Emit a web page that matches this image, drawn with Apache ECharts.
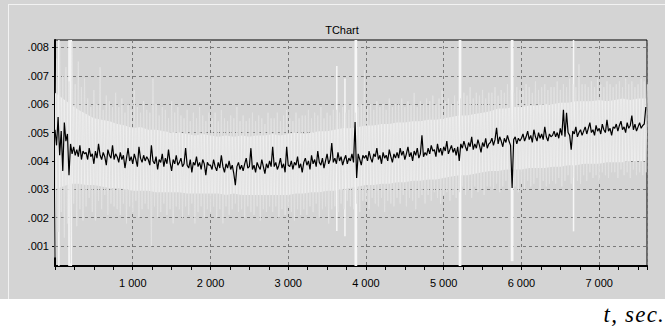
<!DOCTYPE html>
<html>
<head>
<meta charset="utf-8">
<script src="https://cdn.jsdelivr.net/npm/echarts@6/dist/echarts.min.js"></script>
<style>
html, body { margin: 0; padding: 0; background: #fff; }
#panel { position: absolute; left: 0; top: 0; width: 665px; height: 299px; background: #d4d4d4; }
#bevel { position: absolute; left: 8px; top: 4px; right: 0; bottom: 0; border-left: 1px solid #f2f2f2; border-top: 1px solid #f2f2f2; }
#chart { position: absolute; left: 0; top: 0; width: 665px; height: 331px; }
#unit { position: absolute; right: 0; top: 302px; font: italic 23px 'Liberation Serif', 'Times New Roman', serif; letter-spacing: 1.2px; color: #000; }
</style>
</head>
<body>
<div id="panel"><div id="bevel"></div></div>
<div id="chart"></div>
<div id="unit">t, sec.</div>
<script>
// values in thousandths (4.1 -> .0041), time in sec

// black series, one value every 20 s from t = 0
const blackStep = 20;
const black = [
  5.10, 4.55, 5.55, 4.20, 5.05, 3.65, 5.35, 4.70, 4.95, 3.50, 4.60, 4.25, 4.50, 4.20, 4.40, 4.15, 4.55, 4.05, 4.35, 4.25,
  4.30, 4.05, 4.45, 4.15, 4.25, 3.90, 4.35, 4.10, 4.60, 4.20, 4.05, 4.30, 4.15, 3.85, 4.40, 4.20, 4.10, 4.55, 4.05, 4.25,
  4.15, 3.95, 4.30, 4.05, 4.20, 3.75, 4.10, 4.45, 4.00, 4.15, 3.90, 4.25, 4.05, 3.80, 4.50, 4.10, 3.95, 4.20, 4.00, 4.15,
  4.05, 3.85, 4.55, 4.00, 3.90, 4.15, 3.70, 4.05, 3.95, 4.25, 3.80, 4.10, 3.90, 4.40, 3.95, 3.65, 4.05, 3.90, 4.20, 3.85,
  3.95, 4.10, 3.80, 3.90, 4.45, 3.85, 3.75, 4.05, 3.60, 3.95, 3.85, 4.15, 3.80, 3.95, 3.70, 4.05, 3.90, 3.50, 3.95, 3.85,
  3.85, 3.70, 4.05, 3.80, 3.65, 3.95, 3.75, 4.20, 3.80, 3.60, 3.90, 3.75, 4.00, 3.70, 3.85, 3.55, 3.15, 3.80, 3.95, 3.70,
  3.85, 3.65, 3.90, 4.10, 3.75, 3.80, 4.45, 3.70, 3.85, 3.60, 3.95, 3.80, 3.70, 4.05, 3.80, 3.55, 3.90, 3.75, 4.00, 3.80,
  4.50, 3.80, 3.95, 3.70, 3.85, 4.10, 3.75, 3.90, 3.60, 4.50, 3.85, 3.80, 4.00, 3.70, 3.95, 3.85, 4.15, 3.75, 3.90, 3.60,
  3.95, 4.10, 3.85, 4.00, 3.70, 4.20, 3.90, 4.05, 3.80, 4.35, 3.95, 3.85, 4.10, 3.75, 4.00, 4.25, 3.90, 4.05, 4.63, 3.95,
  4.10, 3.90, 4.30, 4.00, 4.15, 3.85, 4.05, 4.20, 3.90, 4.10, 4.00, 4.25, 3.95, 5.37, 3.40, 4.25, 4.05, 3.85, 4.20, 4.10,
  4.20, 4.00, 4.35, 4.10, 3.95, 4.25, 4.15, 4.45, 4.05, 4.20, 3.90, 4.30, 4.10, 4.20, 4.00, 4.40, 4.15, 3.95, 4.25, 4.10,
  4.30, 4.10, 4.45, 4.20, 4.35, 4.05, 4.25, 4.50, 4.15, 4.30, 4.00, 4.35, 4.20, 4.45, 4.10, 4.25, 4.90, 4.15, 4.30, 4.20,
  4.45, 4.25, 4.55, 4.35, 4.40, 4.15, 4.60, 4.30, 4.45, 4.20, 4.50, 4.35, 4.70, 4.25, 4.40, 4.55, 4.30, 4.45, 4.20, 4.50,
  4.00, 4.60, 4.45, 4.70, 4.50, 4.35, 4.65, 4.50, 4.85, 4.40, 4.60, 4.45, 4.75, 4.55, 4.30, 4.65, 4.50, 4.80, 4.45, 4.60,
  4.65, 4.80, 4.55, 4.75, 5.17, 4.60, 4.85, 4.70, 4.50, 4.80, 4.65, 4.90, 4.70, 4.55, 3.05, 4.75, 4.85, 4.60, 4.80, 4.70,
  4.80, 4.95, 4.70, 4.85, 5.05, 4.75, 4.90, 4.65, 5.10, 4.85, 4.70, 5.00, 4.80, 4.95, 4.75, 5.20, 4.85, 4.70, 4.95, 4.85,
  4.90, 5.05, 4.85, 5.00, 4.80, 5.15, 4.90, 5.80, 4.85, 5.70, 5.00, 4.90, 4.40, 5.05, 4.95, 5.20, 4.85, 5.00, 5.10, 4.90,
  5.05, 5.20, 4.95, 5.15, 5.35, 5.00, 5.10, 4.90, 5.25, 5.05, 5.15, 4.95, 5.30, 5.10, 5.00, 5.45, 5.05, 5.15, 4.90, 5.20,
  5.15, 5.30, 5.05, 5.25, 5.40, 5.10, 5.20, 5.00, 5.35, 5.15, 5.25, 5.60, 5.10, 5.30, 5.05, 5.20, 5.35, 5.15, 5.25, 5.30,
  5.90
];

// light series, outer swings (low / high) every 40 s
const fringeStep = 40;
const fringeHi = [
  7.6, 8.2, 7.0, 7.3, 6.8, 8.2, 6.7, 7.5, 6.6, 6.9,
  6.2, 5.9, 6.5, 6.0, 7.3, 5.8, 6.3, 6.1, 5.9, 6.4,
  5.9, 6.2, 5.7, 6.0, 5.8, 6.5, 5.9, 5.7, 6.1, 5.8,
  5.7, 6.9, 6.0, 5.6, 5.9, 5.8, 5.5, 6.1, 5.7, 5.9,
  5.6, 5.5, 5.8, 5.4, 5.7, 5.5, 5.9, 5.6, 5.4, 5.7,
  5.5, 5.7, 5.4, 5.8, 5.5, 5.4, 5.6, 5.5, 5.9, 5.4,
  5.6, 5.4, 5.5, 5.7, 5.4, 5.6, 5.5, 5.3, 5.7, 5.5,
  5.5, 5.7, 5.4, 5.6, 5.8, 5.5, 5.4, 5.7, 5.5, 5.6,
  5.6, 5.8, 5.5, 5.7, 5.6, 5.9, 5.5, 5.7, 5.6, 5.8,
  5.8, 5.7, 5.9, 5.7, 5.8, 6.0, 5.7, 5.9, 6.0, 7.2,
  5.9, 6.0, 5.8, 6.1, 5.9, 6.0, 5.8, 6.2, 5.9, 6.0,
  6.0, 6.2, 5.9, 6.1, 6.0, 6.4, 5.9, 6.1, 6.0, 6.2,
  6.1, 6.3, 6.0, 6.2, 6.5, 6.1, 6.2, 6.0, 6.3, 6.1,
  6.2, 6.4, 6.3, 6.6, 6.2, 6.4, 6.3, 6.5, 6.2, 6.4,
  6.4, 6.6, 6.3, 6.5, 6.4, 6.7, 6.5, 6.4, 6.6, 6.5,
  6.5, 6.7, 6.6, 6.4, 6.8, 6.5, 6.6, 6.7, 6.5, 6.6,
  6.6, 6.8, 6.5, 6.7, 6.6, 6.9, 6.7, 6.6, 7.4, 6.7,
  6.7, 6.6, 6.8, 6.6, 6.9, 6.7, 6.6, 6.8, 6.7, 6.6,
  6.7, 6.8, 6.6, 6.9, 6.7, 6.8, 6.6, 6.7, 6.9, 6.8,
  6.7
];
const fringeLo = [
  0.6, 1.5, 2.2, 1.3, 1.8, 0.4, 2.5, 1.7, 2.3, 1.9,
  2.4, 2.7, 2.2, 1.9, 2.6, 2.3, 2.8, 2.1, 2.5, 2.4,
  2.3, 2.1, 2.5, 1.8, 2.4, 2.2, 2.6, 2.0, 2.3, 2.5,
  2.3, 1.0, 2.4, 2.0, 2.2, 2.5, 2.1, 2.3, 1.8, 2.4,
  2.3, 2.0, 2.4, 2.1, 2.5, 1.8, 2.2, 2.4, 2.0, 2.3,
  2.2, 2.4, 2.0, 2.3, 1.8, 2.4, 2.1, 2.3, 2.5, 2.2,
  2.3, 2.0, 2.4, 2.2, 2.1, 2.4, 1.9, 2.3, 2.2, 2.4,
  2.2, 2.4, 2.0, 2.3, 2.1, 2.4, 2.2, 1.9, 2.3, 2.1,
  2.3, 2.1, 2.4, 2.2, 2.5, 2.0, 2.3, 2.4, 1.8, 2.3,
  2.4, 2.2, 2.5, 2.3, 2.6, 2.4, 2.3, 2.5, 2.2, 2.6,
  2.6, 2.3, 2.7, 2.5, 2.4, 2.7, 2.2, 2.6, 2.5, 2.4,
  2.7, 2.5, 2.8, 2.4, 2.7, 2.6, 2.3, 2.7, 2.8, 2.5,
  2.8, 2.6, 2.9, 2.7, 2.5, 2.8, 2.9, 2.6, 2.8, 2.7,
  2.9, 3.1, 2.8, 3.0, 2.7, 3.1, 2.9, 3.0, 2.8, 3.1,
  3.1, 3.0, 3.2, 2.9, 3.1, 3.3, 3.0, 3.2, 3.1, 2.9,
  3.2, 3.0, 3.3, 3.1, 3.2, 3.4, 3.0, 3.3, 3.1, 3.2,
  3.3, 3.2, 3.4, 3.1, 3.3, 3.5, 3.2, 3.4, 3.3, 3.2,
  3.5, 3.3, 3.6, 3.4, 3.5, 3.3, 3.6, 3.5, 3.4, 3.6,
  3.6, 3.4, 3.7, 3.5, 3.6, 3.4, 3.7, 3.5, 3.6, 3.5,
  3.6
];

// light series, dense core (edges) every 100 s
const coreStep = 100;
const coreHi = [
  6.40, 6.20, 6.00, 5.80, 5.65, 5.50, 5.45, 5.40, 5.30, 5.25,
  5.15, 5.20, 5.10, 5.10, 5.05, 5.00, 5.00, 4.95, 4.90, 4.95,
  4.90, 4.85, 4.90, 4.85, 4.90, 4.85, 4.90, 4.90, 4.95, 4.90,
  4.95, 5.00, 4.95, 5.00, 5.05, 5.05, 5.10, 5.15, 5.15, 5.20,
  5.25, 5.25, 5.30, 5.30, 5.35, 5.35, 5.40, 5.40, 5.45, 5.45,
  5.50, 5.55, 5.60, 5.60, 5.65, 5.70, 5.75, 5.85, 5.85, 5.90,
  5.90, 5.95, 5.95, 6.00, 6.00, 6.05, 6.05, 6.10, 6.10, 6.10,
  6.15, 6.10, 6.15, 6.20, 6.15, 6.20, 6.20
];
const coreLo = [
  3.00, 3.10, 3.20, 3.20, 3.15, 3.15, 3.10, 3.05, 3.05, 3.00,
  2.95, 2.95, 2.95, 2.90, 2.90, 2.90, 2.90, 2.85, 2.85, 2.85,
  2.85, 2.85, 2.80, 2.85, 2.80, 2.80, 2.80, 2.80, 2.80, 2.80,
  2.80, 2.85, 2.85, 2.90, 2.90, 2.95, 2.95, 3.00, 3.05, 3.10,
  3.15, 3.15, 3.20, 3.20, 3.25, 3.25, 3.30, 3.30, 3.35, 3.35,
  3.40, 3.45, 3.50, 3.50, 3.55, 3.60, 3.65, 3.65, 3.70, 3.70,
  3.70, 3.75, 3.75, 3.75, 3.80, 3.80, 3.85, 3.85, 3.90, 3.90,
  3.90, 3.95, 3.95, 3.95, 4.00, 4.00, 4.00
];

// light series, isolated full swings
const spikeT  = [50, 180, 195, 210, 3625, 3730, 3862, 3878, 5202, 5218, 5872, 5888, 6670];
const spikeLo = [0.3, 0.3, 0.3, 0.3, 1.53, 1.35, 0.3, 0.3, 0.3, 0.3, 0.47, 0.47, 1.52];
const spikeHi = [8.26, 8.26, 8.26, 8.26, 7.34, 6.9, 8.26, 8.26, 8.26, 8.26, 8.26, 8.26, 8.26];

const yTicks = [1, 2, 3, 4, 5, 6, 7, 8];
const tMax = 7615;

const F = "'Liberation Sans Narrow', 'Liberation Sans', Arial, sans-serif";

const blackData = black.map((v, i) => [i * blackStep, v]);
const fringeData = [];
fringeHi.forEach((h, i) => {
  fringeData.push([i * fringeStep, fringeLo[i]]);
  fringeData.push([i * fringeStep + fringeStep / 2, h]);
});
const coreData = coreHi.map((v, i) => [i * coreStep, coreLo[i], v]);
const spikeData = spikeT.map((t, i) => [t, spikeLo[i], spikeHi[i]]);

const gridLine = { lineStyle: { color: '#7a7a7a', width: 1, type: [3, 3] } };

const chart = echarts.init(document.getElementById('chart'), null, { renderer: 'svg' });
chart.setOption({
  animation: false,
  backgroundColor: 'transparent',
  title: {
    text: 'TChart', left: 337, top: 19, textAlign: 'center',
    textStyle: { fontFamily: F, fontSize: 11, fontWeight: 'normal', color: '#000' }
  },
  grid: { left: 55, right: 18, top: 40, bottom: 65, show: true, borderColor: '#000', borderWidth: 1, backgroundColor: 'transparent' },
  xAxis: {
    type: 'value', min: 0, max: tMax, interval: 1000,
    axisLine: { lineStyle: { color: '#000', width: 2 } },
    axisTick: { length: 4, lineStyle: { color: '#000' } },
    minorTick: { show: true, splitNumber: 4, length: 4, lineStyle: { color: '#000' } },
    splitLine: gridLine,
    axisLabel: {
      showMinLabel: false, showMaxLabel: false, margin: 11, color: '#000', fontFamily: F, fontSize: 11,
      formatter: v => String(v).replace(/\B(?=(\d{3})+$)/, ' ')
    }
  },
  yAxis: {
    type: 'value', min: 0.3, max: 8.26,
    axisLine: { show: true, lineStyle: { color: '#000', width: 2 } },
    axisTick: { show: true, length: 3, customValues: yTicks, lineStyle: { color: '#000' } },
    splitLine: gridLine,
    axisLabel: {
      customValues: yTicks, margin: 6, color: '#000', fontFamily: F, fontSize: 11,
      formatter: v => '.00' + v
    }
  },
  series: [
    {
      type: 'line', data: fringeData, showSymbol: false, silent: true,
      lineStyle: { color: '#e1e1e1', width: 1 }
    },
    {
      // dense core of the light series: one polygon between its low and high edges
      type: 'custom', data: coreData, silent: true,
      renderItem: (params, api) => {
        if (params.dataIndex !== 0) return null;
        const top = coreData.map(d => api.coord([d[0], d[2]]));
        const bottom = coreData.map(d => api.coord([d[0], d[1]])).reverse();
        return {
          type: 'polygon',
          shape: { points: top.concat(bottom) },
          style: { fill: '#eeeeee' }
        };
      }
    },
    {
      type: 'custom', data: spikeData, silent: true,
      renderItem: (params, api) => {
        const a = api.coord([api.value(0), api.value(1)]);
        const b = api.coord([api.value(0), api.value(2)]);
        return {
          type: 'line',
          shape: { x1: a[0], y1: a[1], x2: b[0], y2: b[1] },
          style: { stroke: '#f6f6f6', lineWidth: 1.5 }
        };
      }
    },
    {
      type: 'line', data: blackData, showSymbol: false, silent: true,
      lineStyle: { color: '#000', width: 1.2 }
    }
  ]
});
</script>
</body>
</html>
